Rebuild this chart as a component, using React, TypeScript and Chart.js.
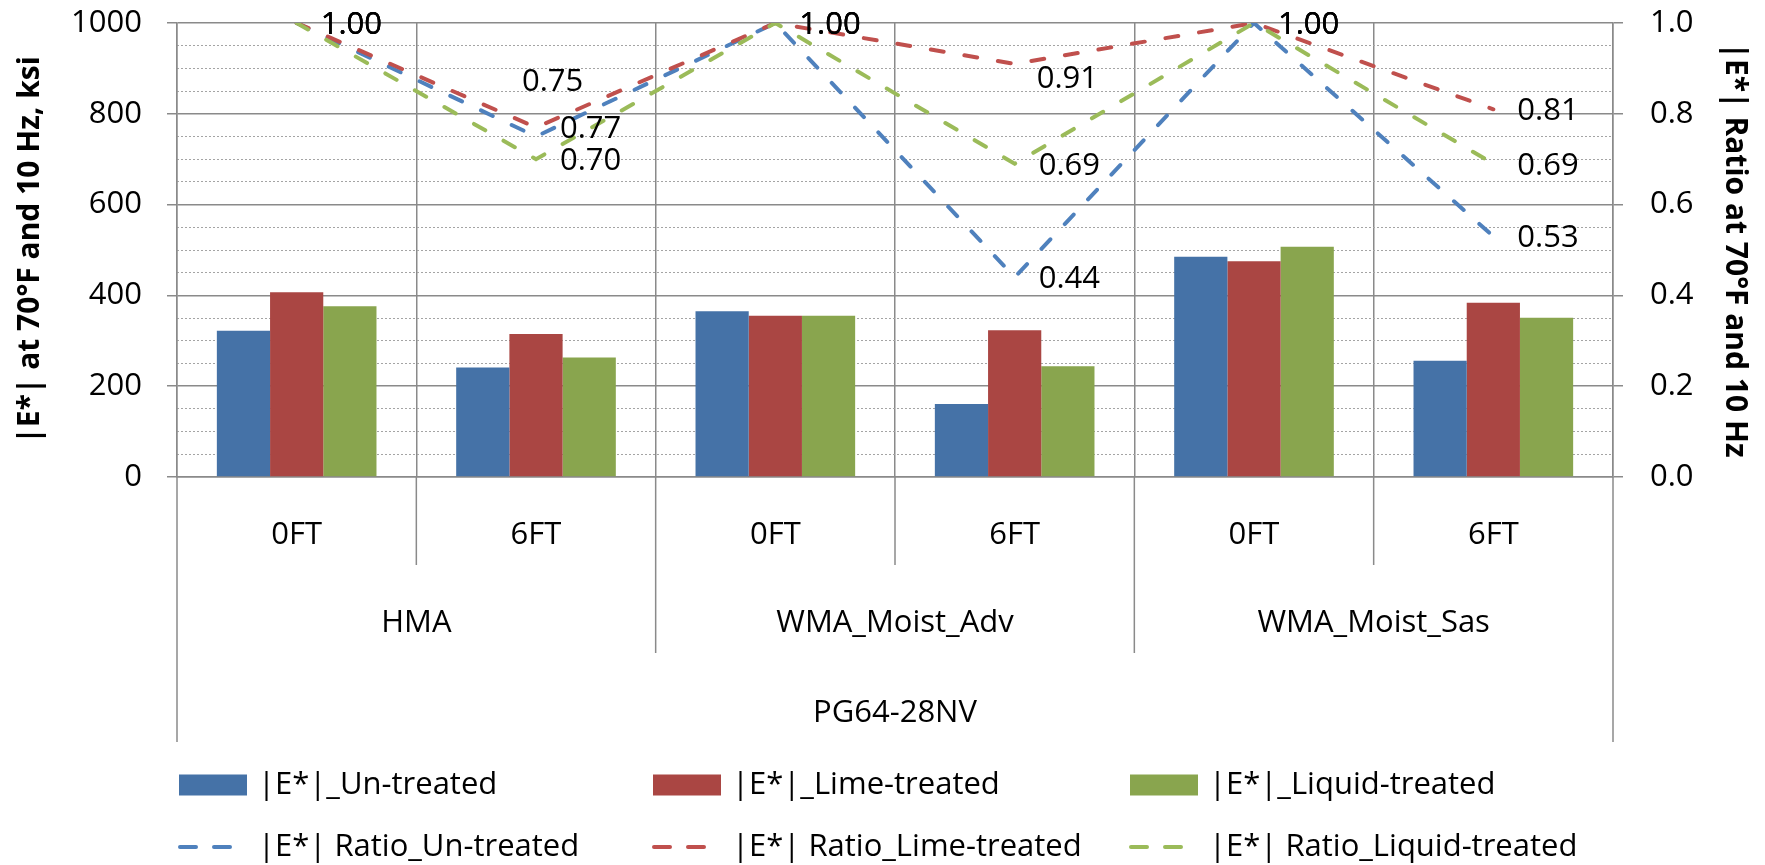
import React, { useEffect, useRef } from "react";
import { Chart, registerables } from "chart.js";

Chart.register(...registerables);

const FONT = "'Open Sans', Lato, sans-serif";
const GRID = "#8a8a8a";
const MINOR = "#a4a4a4";

// Category hierarchy (innermost first)
const conditions = ["0FT", "6FT", "0FT", "6FT", "0FT", "6FT"];
const mixtures = ["HMA", "WMA_Moist_Adv", "WMA_Moist_Sas"];
const binder = "PG64-28NV";

// |E*| at 70F and 10 Hz, ksi (left axis, bars)
const modulusUntreated = [322, 241, 365, 161, 485, 256];
const modulusLime = [407, 315, 355, 323, 475, 384];
const modulusLiquid = [376, 263, 355, 244, 507, 351];

// |E*| ratio (right axis, dashed lines)
const ratioUntreated = [1.0, 0.75, 1.0, 0.44, 1.0, 0.53];
const ratioLime = [1.0, 0.77, 1.0, 0.91, 1.0, 0.81];
const ratioLiquid = [1.0, 0.7, 1.0, 0.69, 1.0, 0.69];

const barNames = ["|E*|_Un-treated", "|E*|_Lime-treated", "|E*|_Liquid-treated"];
const lineNames = ["|E*| Ratio_Un-treated", "|E*| Ratio_Lime-treated", "|E*| Ratio_Liquid-treated"];
const barColors = ["#4572A7", "#AA4643", "#89A54E"];
const lineColors = ["#4F81BD", "#C0504D", "#9BBB59"];

const leftTitle = "|E*| at 70°F and 10 Hz, ksi";
const rightTitle = "|E*| Ratio at 70°F and 10 Hz";

// label placement (offset from point, px): default right of the point
const defaultLabelShift = [24, 2];
const labelShift: Record<string, number[]> = {
  "3-1": [-14, -54],
  "4-3": [22, 15],
};

const TEXT_SIZE = 31;
const TITLE_SIZE = 30;

const ratioLabelPlugin = {
  id: "ratioLabels",
  afterDatasetsDraw(chart: any) {
    const ctx = chart.ctx;
    ctx.save();
    ctx.font = `${TEXT_SIZE}px ${FONT}`;
    ctx.fillStyle = "#000";
    ctx.textBaseline = "middle";
    ctx.textAlign = "left";
    chart.data.datasets.forEach((ds: any, di: number) => {
      if (ds.type !== "line") return;
      const meta = chart.getDatasetMeta(di);
      meta.data.forEach((pt: any, j: number) => {
        const s = labelShift[`${di}-${j}`] || defaultLabelShift;
        ctx.fillText(Number(ds.data[j]).toFixed(2), pt.x + s[0], pt.y + s[1]);
      });
    });
    ctx.restore();
  },
};

const hierarchyAxisPlugin = {
  id: "hierarchyAxis",
  afterDraw(chart: any) {
    const { ctx, chartArea } = chart;
    const xs = chart.scales.x;
    const n = conditions.length;
    const per = n / mixtures.length;
    const edge = (i: number) => xs.getPixelForValue(i - 0.5);
    const base = chartArea.bottom;
    ctx.save();
    ctx.strokeStyle = GRID;
    ctx.lineWidth = 1.5;
    for (let i = 0; i <= n; i++) {
      const depth = i === 0 || i === n ? 265 : i % per === 0 ? 176 : 88;
      const px = edge(i);
      ctx.beginPath();
      ctx.moveTo(px, base);
      ctx.lineTo(px, base + depth);
      ctx.stroke();
    }
    ctx.font = `${TEXT_SIZE}px ${FONT}`;
    ctx.fillStyle = "#000";
    ctx.textAlign = "center";
    ctx.textBaseline = "middle";
    conditions.forEach((c, i) => ctx.fillText(c, xs.getPixelForValue(i), base + 58));
    mixtures.forEach((m, g) => {
      const cx = (edge(g * per) + edge((g + 1) * per)) / 2;
      ctx.fillText(m, cx, base + 146);
    });
    ctx.fillText(binder, (edge(0) + edge(n)) / 2, base + 236);
    ctx.restore();
  },
};

const legendPlugin = {
  id: "gridLegend",
  afterDraw(chart: any) {
    const ctx = chart.ctx;
    const cols = [179, 653, 1130];
    const rows = [785, 847];
    ctx.save();
    ctx.font = `${TEXT_SIZE}px ${FONT}`;
    ctx.fillStyle = "#000";
    ctx.textBaseline = "middle";
    ctx.textAlign = "left";
    barNames.forEach((name, i) => {
      ctx.fillStyle = barColors[i];
      ctx.fillRect(cols[i], rows[0] - 10.5, 68, 21);
      ctx.fillStyle = "#000";
      ctx.fillText(name, cols[i] + 79, rows[0]);
    });
    lineNames.forEach((name, i) => {
      ctx.strokeStyle = lineColors[i];
      ctx.lineWidth = 4;
      ctx.lineCap = "round";
      ctx.beginPath();
      ctx.moveTo(cols[i] + 1, rows[1]);
      ctx.lineTo(cols[i] + 17, rows[1]);
      ctx.moveTo(cols[i] + 35, rows[1]);
      ctx.lineTo(cols[i] + 51, rows[1]);
      ctx.stroke();
      ctx.fillStyle = "#000";
      ctx.fillText(name, cols[i] + 79, rows[1]);
    });
    ctx.restore();
  },
};

export default function App() {
  const ref = useRef<HTMLCanvasElement>(null);
  useEffect(() => {
    const barData = [modulusUntreated, modulusLime, modulusLiquid];
    const lineData = [ratioUntreated, ratioLime, ratioLiquid];
    const datasets: any[] = [];
    barData.forEach((d, i) =>
      datasets.push({
        type: "bar",
        label: barNames[i],
        data: d,
        backgroundColor: barColors[i],
        yAxisID: "y",
        categoryPercentage: 0.667,
        barPercentage: 1.0,
        order: 5,
      })
    );
    lineData.forEach((d, i) =>
      datasets.push({
        type: "line",
        label: lineNames[i],
        data: d,
        yAxisID: "y1",
        borderColor: lineColors[i],
        backgroundColor: lineColors[i],
        borderWidth: 4,
        borderDash: [13, 21],
        borderCapStyle: "round",
        pointRadius: 0,
        fill: false,
        tension: 0,
        order: 3 - i,
      })
    );
    const tickFont = { family: FONT, size: TEXT_SIZE };
    const titleFont = { family: FONT, size: TITLE_SIZE, weight: "bold" as const };
    const noPad = (s: any) => {
      s.paddingTop = 0;
      s.paddingBottom = 0;
    };
    const chart = new Chart(ref.current as HTMLCanvasElement, {
      type: "bar",
      data: { labels: conditions, datasets },
      options: {
        animation: false,
        responsive: true,
        maintainAspectRatio: false,
        layout: { padding: { top: 23, left: 0, right: 0, bottom: 0 } },
        plugins: { legend: { display: false }, tooltip: { enabled: false } },
        scales: {
          x: {
            type: "category",
            offset: true,
            grid: { offset: true, color: GRID, lineWidth: 1.5, drawTicks: false },
            border: { display: true, color: GRID, width: 1.5 },
            ticks: { display: false },
            afterFit: (s: any) => {
              s.height = 388;
              s.paddingLeft = 0;
              s.paddingRight = 0;
            },
          },
          yMinor: {
            position: "left",
            min: 0,
            max: 1000,
            ticks: { display: false, stepSize: 50 },
            grid: {
              color: (c: any) => (c.tick && c.tick.value % 200 === 0 ? "rgba(0,0,0,0)" : MINOR),
              lineWidth: 1,
              drawTicks: false,
            },
            border: { display: false, dash: [2, 2] },
            afterFit: (s: any) => {
              s.width = 0;
              noPad(s);
            },
          },
          y: {
            position: "left",
            min: 0,
            max: 1000,
            ticks: {
              stepSize: 200,
              color: "#000",
              font: tickFont,
              padding: 25,
              callback: (v: any) => String(v),
            },
            grid: { color: GRID, lineWidth: 1.5, tickLength: 10 },
            border: { color: GRID, width: 1.5 },
            title: { display: true, text: leftTitle, color: "#000", font: titleFont, padding: { top: 12, bottom: 0 } },
            afterFit: (s: any) => {
              s.width = 177;
              noPad(s);
            },
          },
          y1: {
            position: "right",
            min: 0,
            max: 1,
            ticks: {
              stepSize: 0.2,
              color: "#000",
              font: tickFont,
              padding: 27,
              callback: (v: any) => Number(v).toFixed(1),
            },
            grid: { drawOnChartArea: false, color: GRID, lineWidth: 1.5, tickLength: 10 },
            border: { color: GRID, width: 1.5 },
            title: { display: true, text: rightTitle, color: "#000", font: titleFont, padding: { top: 12, bottom: 0 } },
            afterFit: (s: any) => {
              s.width = 152;
              noPad(s);
            },
          },
        },
      } as any,
      plugins: [ratioLabelPlugin, hierarchyAxisPlugin, legendPlugin],
    });
    return () => chart.destroy();
  }, []);
  return (
    <div style={{ position: "fixed", left: 0, top: 0, width: 1765, height: 865, background: "#fff" }}>
      <canvas ref={ref} />
    </div>
  );
}
